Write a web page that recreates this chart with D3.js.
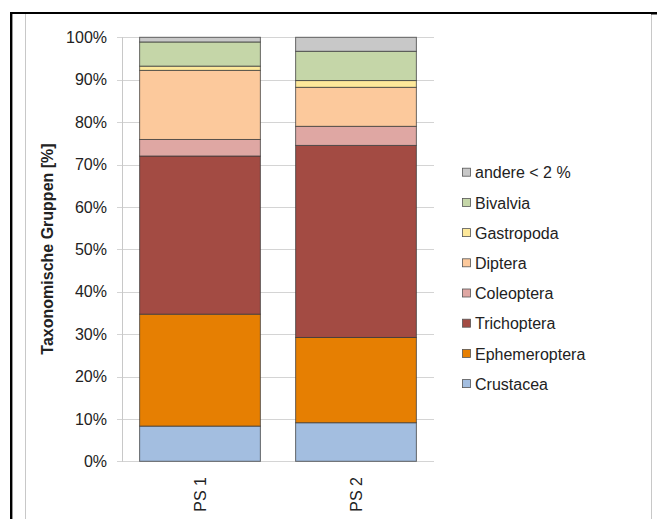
<!DOCTYPE html>
<html><head><meta charset="utf-8">
<script src="https://cdn.jsdelivr.net/npm/d3@7"></script>
<style>body{margin:0;background:#fff;}svg{display:block;font-family:"Liberation Sans",Arial,sans-serif;}</style>
</head><body>
<svg id="c" width="657" height="519"></svg>
<script>
const categories = ["PS 1", "PS 2"];
const groups = ["Crustacea","Ephemeroptera","Trichoptera","Coleoptera","Diptera","Gastropoda","Bivalvia","andere < 2 %"];
const colors = ["#a3bee0","#e67f02","#a34b43","#dfa7a3","#fcc99c","#fde89a","#c5d6a8","#c8c8c8"];
const ps1Values = [8.3, 26.4, 37.3, 3.9, 16.3, 1.0, 5.7, 1.1];
const ps2Values = [9.1, 20.1, 45.3, 4.5, 9.2, 1.6, 6.9, 3.3];
const yTicks = [0,10,20,30,40,50,60,70,80,90,100];
const yTitle = "Taxonomische Gruppen [%]";

const svg = d3.select("#c");
// page frame
svg.append("line").attr("x1",10).attr("x2",656).attr("y1",13).attr("y2",13).attr("stroke","#000").attr("stroke-width",2);
svg.append("line").attr("x1",11.2).attr("x2",11.2).attr("y1",12).attr("y2",519).attr("stroke","#000").attr("stroke-width",2.4);
svg.append("line").attr("x1",25.5).attr("x2",25.5).attr("y1",14).attr("y2",519).attr("stroke","#c8c8c8").attr("stroke-width",1);
svg.append("line").attr("x1",651.5).attr("x2",651.5).attr("y1",14).attr("y2",519).attr("stroke","#c8c8c8").attr("stroke-width",1);
svg.append("rect").attr("x",651).attr("y",12).attr("width",6).attr("height",2.5).attr("fill","#000");

const x = d3.scaleBand().domain(categories).range([122,434]).paddingInner(0.226).paddingOuter(0.113);
const y = d3.scaleLinear().domain([0,100]).range([461.3,37.3]);

// gridlines
svg.append("g").selectAll("line").data(yTicks).join("line")
  .attr("x1",117).attr("x2",434)
  .attr("y1",d=>Math.round(y(d))+0.5).attr("y2",d=>Math.round(y(d))+0.5)
  .attr("stroke","#d4d4d4").attr("stroke-width",1);
// y axis line
svg.append("line").attr("x1",122.5).attr("x2",122.5).attr("y1",y(100)).attr("y2",y(0)+0.5).attr("stroke","#c8c8c8");

// tick labels
svg.append("g").selectAll("text").data(yTicks).join("text")
  .attr("x",107).attr("y",d=>y(d)).attr("dy","0.36em")
  .attr("text-anchor","end").attr("font-size",16).attr("fill","#222")
  .text(d=>d+"%");

// stacked bars
const data = categories.map((c,i)=>{ const o={cat:c}; const v=i===0?ps1Values:ps2Values; groups.forEach((g,j)=>o[g]=v[j]); return o;});
const stack = d3.stack().keys(groups)(data);
svg.append("g").selectAll("g").data(stack).join("g")
  .attr("fill",(d,i)=>colors[i])
  .selectAll("rect").data(d=>d).join("rect")
  .attr("x",d=>x(d.data.cat)).attr("width",x.bandwidth())
  .attr("y",d=>y(d[1])).attr("height",d=>y(d[0])-y(d[1]))
  .attr("stroke","#3a3a3a").attr("stroke-opacity",0.75).attr("stroke-width",1);

// x labels
svg.append("g").selectAll("text").data(categories).join("text")
  .attr("transform",d=>`translate(${x(d)+x.bandwidth()/2+6},477) rotate(-90)`)
  .attr("text-anchor","end").attr("font-size",16).attr("fill","#222")
  .text(d=>d);

// y title
svg.append("text").attr("transform","translate(53,249) rotate(-90)")
  .attr("text-anchor","middle").attr("font-size",16).attr("font-weight","bold").attr("fill","#222")
  .text(yTitle);

// legend
const legendOrder = groups.map((g,i)=>({g,c:colors[i]})).reverse();
const lg = svg.append("g").selectAll("g").data(legendOrder).join("g")
  .attr("transform",(d,i)=>`translate(462,${172.7+i*30.2})`);
lg.append("rect").attr("x",0.5).attr("y",-4.5).attr("width",8).attr("height",8)
  .attr("fill",d=>d.c).attr("stroke","#555").attr("stroke-width",0.8);
lg.append("text").attr("x",13).attr("y",0).attr("dy","0.36em").attr("font-size",16).attr("fill","#222").text(d=>d.g);
</script>
</body></html>
